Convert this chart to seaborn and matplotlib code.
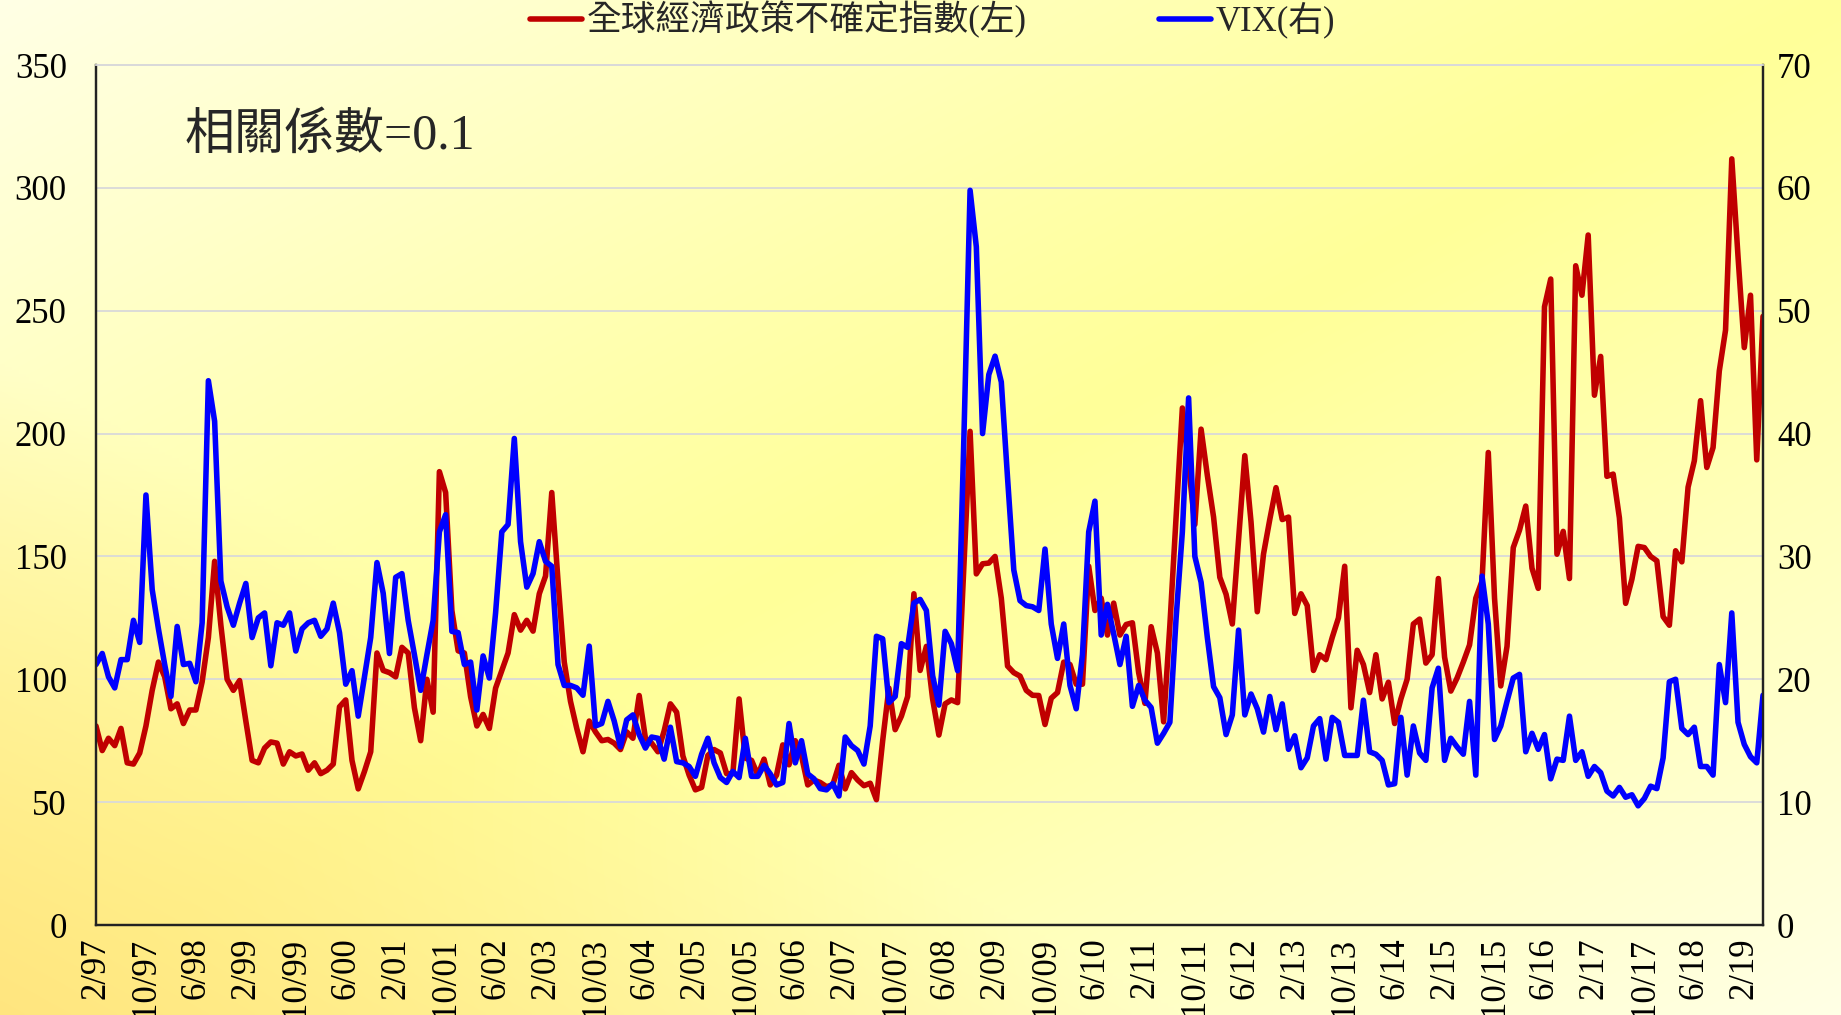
import numpy as np
import pandas as pd
import matplotlib
matplotlib.use("Agg")
import matplotlib.pyplot as plt
import seaborn as sns

# ---------------- data (monthly, Feb 1997 - May 2019) ----------------
epu = [81, 71, 76, 73, 80, 66, 65.5, 70, 81, 95.5, 107, 101, 88, 90, 82, 87.5, 87.5, 99, 117, 148,
       122, 100, 95.5, 99.5, 83, 67, 66, 72, 74.5, 74, 65.5, 70.5, 68.8, 69.6, 63, 66, 61.6, 63, 65.5, 88.8,
       91.6, 67, 55.4, 62.5, 70.5, 110.7, 103.6, 102.7, 101, 113, 110.7, 88.4, 75, 100, 86.6, 184.5, 176, 128, 111.6, 110.7,
       92.9, 81, 85.7, 80, 96.4, 103.6, 110.7, 126.3, 120, 124, 119.6, 134.8, 142, 176, 140, 107, 91, 80, 70.5, 83,
       78.6, 75, 75.5, 74, 71.4, 78.6, 76, 93.4, 76, 74, 70.5, 79, 90, 86.6, 68.8, 61, 55, 56, 69, 71.4,
       70, 61.6, 61.6, 92, 67.9, 67, 61, 67.5, 57, 61, 73.3, 65.2, 75, 68.8, 57, 59, 58, 56.3, 57, 65,
       55.4, 62, 59, 56.7, 57.7, 51, 75, 96.4, 79.5, 85, 93, 134.8, 103.6, 113.4, 92, 77.3, 90, 91.6, 90.5, 145.5,
       200.9, 142.9, 147, 147.3, 150, 133, 105.4, 102.7, 101.3, 95.5, 93.5, 93.4, 81.6, 92.3, 94.6, 107, 106, 98, 98, 146,
       128, 133, 118, 131, 118, 122.3, 123, 102.7, 90.2, 121.4, 110.7, 82.7, 122, 166, 210.4, 187, 163, 201.8, 183, 166,
       141.5, 134.6, 122.5, 157, 191, 164, 127.5, 151, 165, 178, 165, 166, 126.8, 134.8, 130, 103.6, 110, 108, 117, 125,
       146, 88.4, 111.8, 106, 94.6, 110, 92, 98.8, 82, 92, 100, 122.5, 124.5, 106.6, 110, 141, 109, 95.2, 100.5, 107,
       114, 133, 140, 192.3, 133, 97.3, 113.4, 153.6, 160.7, 170.5, 145.2, 137, 251.6, 262.9, 150.9, 160.2, 141, 268.3, 256.3, 280.8,
       215.6, 231.4, 182.6, 183.5, 165.7, 130.9, 140.7, 154.1, 153.6, 150, 148.2, 125.5, 122, 152.3, 147.8, 178.2, 188.9, 213.4, 186.2, 194.3,
       225.5, 242.1, 311.8, 272, 235, 256.3, 189.3, 247.7]

vix = [21.2, 22.1, 20.2, 19.3, 21.6, 21.6, 24.8, 23, 35, 27.3, 24.1, 21.2, 18.6, 24.3, 21.2, 21.3, 19.8, 24.6, 44.3, 41,
       28, 25.9, 24.4, 26.2, 27.8, 23.4, 25, 25.4, 21.1, 24.6, 24.4, 25.4, 22.3, 24.1, 24.6, 24.8, 23.5, 24.1, 26.2, 23.8,
       19.6, 20.7, 17, 20.2, 23.4, 29.5, 27, 22.1, 28.3, 28.6, 24.8, 22, 19.1, 22, 24.8, 32, 33.4, 23.9, 23.8, 21.2,
       21.4, 17.5, 21.9, 20.1, 25.4, 32, 32.6, 39.6, 31.2, 27.5, 28.6, 31.2, 29.6, 29.2, 21.2, 19.5, 19.5, 19.3, 18.7, 22.7,
       16.2, 16.4, 18.2, 16.6, 14.5, 16.7, 17.1, 15.5, 14.4, 15.3, 15.2, 13.5, 16.1, 13.3, 13.2, 12.9, 12.1, 13.9, 15.2, 13.2,
       12, 11.6, 12.5, 12, 15.2, 12.1, 12.1, 13, 12.3, 11.4, 11.6, 16.4, 13.2, 15, 12.3, 11.9, 11.1, 11, 11.5, 10.5,
       15.3, 14.6, 14.2, 13.1, 16.2, 23.5, 23.3, 18.1, 18.6, 22.9, 22.6, 26.2, 26.5, 25.6, 20.3, 17.9, 23.9, 22.9, 20.7, 39.5,
       59.8, 55.2, 40, 44.8, 46.3, 44.2, 36.4, 28.9, 26.4, 26, 25.9, 25.6, 30.6, 24.5, 21.7, 24.5, 19.5, 17.6, 22, 32,
       34.5, 23.6, 26.1, 23.7, 21.2, 23.5, 17.8, 19.5, 18.3, 17.7, 14.8, 15.6, 16.5, 25, 32, 42.9, 30, 27.9, 23.4, 19.4,
       18.5, 15.5, 17.1, 24, 17.1, 18.8, 17.6, 15.7, 18.6, 15.9, 18, 14.3, 15.4, 12.8, 13.6, 16.2, 16.8, 13.5, 16.9, 16.5,
       13.8, 13.8, 13.8, 18.3, 14.1, 13.9, 13.4, 11.4, 11.5, 16.9, 12.2, 16.2, 14, 13.4, 19.3, 20.9, 13.4, 15.2, 14.5, 13.9,
       18.2, 12.2, 28.4, 24.5, 15.1, 16.2, 18.2, 20.1, 20.4, 14.1, 15.6, 14.3, 15.5, 11.9, 13.5, 13.4, 17, 13.4, 14.1, 12.1,
       12.9, 12.4, 10.9, 10.5, 11.2, 10.4, 10.6, 9.7, 10.3, 11.3, 11.1, 13.6, 19.8, 20, 16, 15.5, 16.1, 12.9, 12.9, 12.2,
       21.2, 18.1, 25.4, 16.5, 14.7, 13.7, 13.2, 18.7]

tick_labels = ["2/97", "10/97", "6/98", "2/99", "10/99", "6/00", "2/01", "10/01", "6/02", "2/03",
               "10/03", "6/04", "2/05", "10/05", "6/06", "2/07", "10/07", "6/08", "2/09", "10/09",
               "6/10", "2/11", "10/11", "6/12", "2/13", "10/13", "6/14", "2/15", "10/15", "6/16",
               "2/17", "10/17", "6/18", "2/19"]
left_ticks = [0, 50, 100, 150, 200, 250, 300, 350]
right_ticks = [0, 10, 20, 30, 40, 50, 60, 70]
label_epu = "全球經濟政策不確定指數(左)"
label_vix = "VIX(右)"
note = "相關係數=0.1"

month_idx = np.arange(len(epu))
df = pd.DataFrame({"m": month_idx, "epu": epu, "vix": vix})

# ---------------- style ----------------
sns.set_style("white")
plt.rcParams["font.family"] = ["Liberation Serif", "Noto Sans CJK TC", "DejaVu Sans"]
plt.rcParams["axes.unicode_minus"] = False

W_PX, H_PX, DPI = 1841, 1015, 100
fig = plt.figure(figsize=(W_PX / DPI, H_PX / DPI), dpi=DPI)

# background gradient
gh, gw = 300, 540
yy, xx = np.mgrid[0:1:complex(0, gh), 0:1:complex(0, gw)]
s = (xx + yy) / 2.0
L = np.clip(np.abs(s - 0.5) * 2.0, 0, 1) ** 1.1
yellow = np.array([1.0, 1.0, 0.60])
light = np.array([1.0, 1.0, 0.90])
col = yellow[None, None, :] * (1 - L[..., None]) + light[None, None, :] * L[..., None]
t = (yy + (1 - xx)) / 2.0
w = np.clip((t - 0.68) / 0.32, 0, 1)[..., None]
orange = np.array([1.0, 0.90, 0.50])
col = col * (1 - w) + orange[None, None, :] * w
bg = fig.add_axes([0, 0, 1, 1], zorder=-10)
bg.imshow(col, aspect="auto", extent=[0, 1, 0, 1], interpolation="bilinear")
bg.axis("off")

left, right, bottom, top = 96 / W_PX, 1763 / W_PX, 1 - 925 / H_PX, 1 - 65 / H_PX
ax = fig.add_axes([left, bottom, right - left, top - bottom])
ax.set_facecolor("none")

red = "#C00000"
blue = "#0000FF"
lw = 4.0

sns.lineplot(data=df, x="m", y="epu", ax=ax, color=red, linewidth=lw, label=label_epu)
ax2 = ax.twinx()
ax2.set_facecolor("none")
sns.lineplot(data=df, x="m", y="vix", ax=ax2, color=blue, linewidth=lw, label=label_vix)

ax.set_xlim(0, len(epu) - 1)
ax.set_ylim(0, 350)
ax2.set_ylim(0, 70)
ax.set_yticks(left_ticks)
ax2.set_yticks(right_ticks)
ax.set_xticks(np.arange(0, len(epu), 8)[:len(tick_labels)])
ax.set_xticklabels(tick_labels, rotation=90)
ax.set_xlabel("")
ax.set_ylabel("")
ax2.set_ylabel("")

ax.yaxis.grid(True, color="#D9D9D9", linewidth=1.3)
ax.xaxis.grid(False)
ax.set_axisbelow(True)

fs = 25
ax.tick_params(axis="y", length=0, pad=21, labelsize=fs, colors="black")
ax.tick_params(axis="x", length=0, pad=9, labelsize=fs, colors="black")
ax2.tick_params(axis="y", length=0, pad=10, labelsize=fs, colors="black")

for a in (ax, ax2):
    for side in ("left", "right", "bottom"):
        a.spines[side].set_color("#222222")
        a.spines[side].set_linewidth(1.6)
    a.spines["top"].set_color("#D9D9D9")
    a.spines["top"].set_linewidth(1.3)

# legend at top
h1, l1 = ax.get_legend_handles_labels()
h2, l2 = ax2.get_legend_handles_labels()
for a in (ax, ax2):
    if a.get_legend() is not None:
        a.get_legend().remove()
fig.legend(h1 + h2, l1 + l2, loc="center", bbox_to_anchor=(0.5064, 1 - 20 / H_PX),
           ncol=2, frameon=False, fontsize=25, handlelength=1.5, handletextpad=0.14,
           columnspacing=3.8)

ax.text(0.0534, 0.917, note, transform=ax.transAxes, fontsize=36, ha="left", va="center")

fig.savefig("out.png", dpi=DPI)
